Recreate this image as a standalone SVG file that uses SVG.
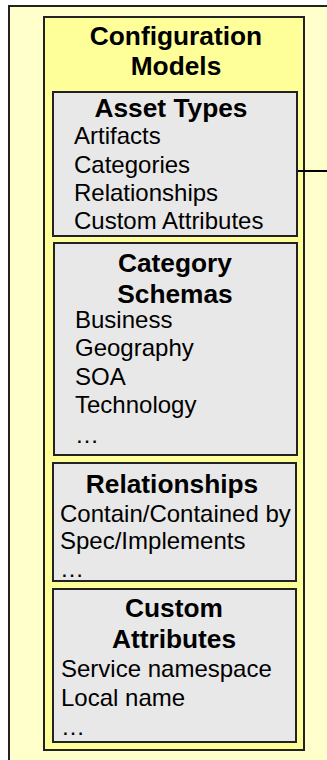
<svg xmlns="http://www.w3.org/2000/svg" width="327" height="760" viewBox="0 0 327 760">
<style>
.outer{fill:#FFFFCC;stroke:#222;stroke-width:2}
.yel{fill:#FFFF99;stroke:#222;stroke-width:2}
.box{fill:#E8E8E8;stroke:#222;stroke-width:2}
.h{font-family:"Liberation Sans",Arial,sans-serif;font-weight:bold;font-size:26.3px;fill:#000;text-anchor:middle}
.t{font-family:"Liberation Sans",Arial,sans-serif;font-size:24px;fill:#000}
.c{stroke:#000;stroke-width:2;fill:none}
</style>
<rect class="outer" x="9" y="6" width="330" height="770"/>
<g id="config-models">
<rect class="yel" x="44" y="17" width="260" height="733"/>
<text class="h" x="176" y="45">Configuration</text>
<text class="h" x="176" y="75">Models</text>
</g>
<g id="connectors">
<line class="c" x1="297" y1="171" x2="330" y2="171"/>
</g>
<g id="asset-types">
<rect class="box" x="53" y="92" width="244" height="144"/>
<text class="h" x="171" y="117">Asset Types</text>
<text class="t" x="74" y="144">Artifacts</text>
<text class="t" x="74" y="173">Categories</text>
<text class="t" x="74" y="201">Relationships</text>
<text class="t" x="74" y="229">Custom Attributes</text>
</g>
<g id="category-schemas">
<rect class="box" x="54" y="243" width="243" height="212"/>
<text class="h" x="175" y="272">Category</text>
<text class="h" x="175" y="303">Schemas</text>
<text class="t" x="75" y="328">Business</text>
<text class="t" x="75" y="356">Geography</text>
<text class="t" x="75" y="385">SOA</text>
<text class="t" x="75" y="413">Technology</text>
<text class="t" x="75" y="443">…</text>
</g>
<g id="relationships">
<rect class="box" x="53" y="463" width="243" height="118"/>
<text class="h" x="172" y="493">Relationships</text>
<text class="t" x="60" y="522">Contain/Contained by</text>
<text class="t" x="60" y="549">Spec/Implements</text>
<text class="t" x="60" y="577">…</text>
</g>
<g id="custom-attributes">
<rect class="box" x="53" y="589" width="243" height="153"/>
<text class="h" x="174" y="617">Custom</text>
<text class="h" x="174" y="648">Attributes</text>
<text class="t" x="61" y="677">Service namespace</text>
<text class="t" x="61" y="706">Local name</text>
<text class="t" x="61" y="735">…</text>
</g>
</svg>
